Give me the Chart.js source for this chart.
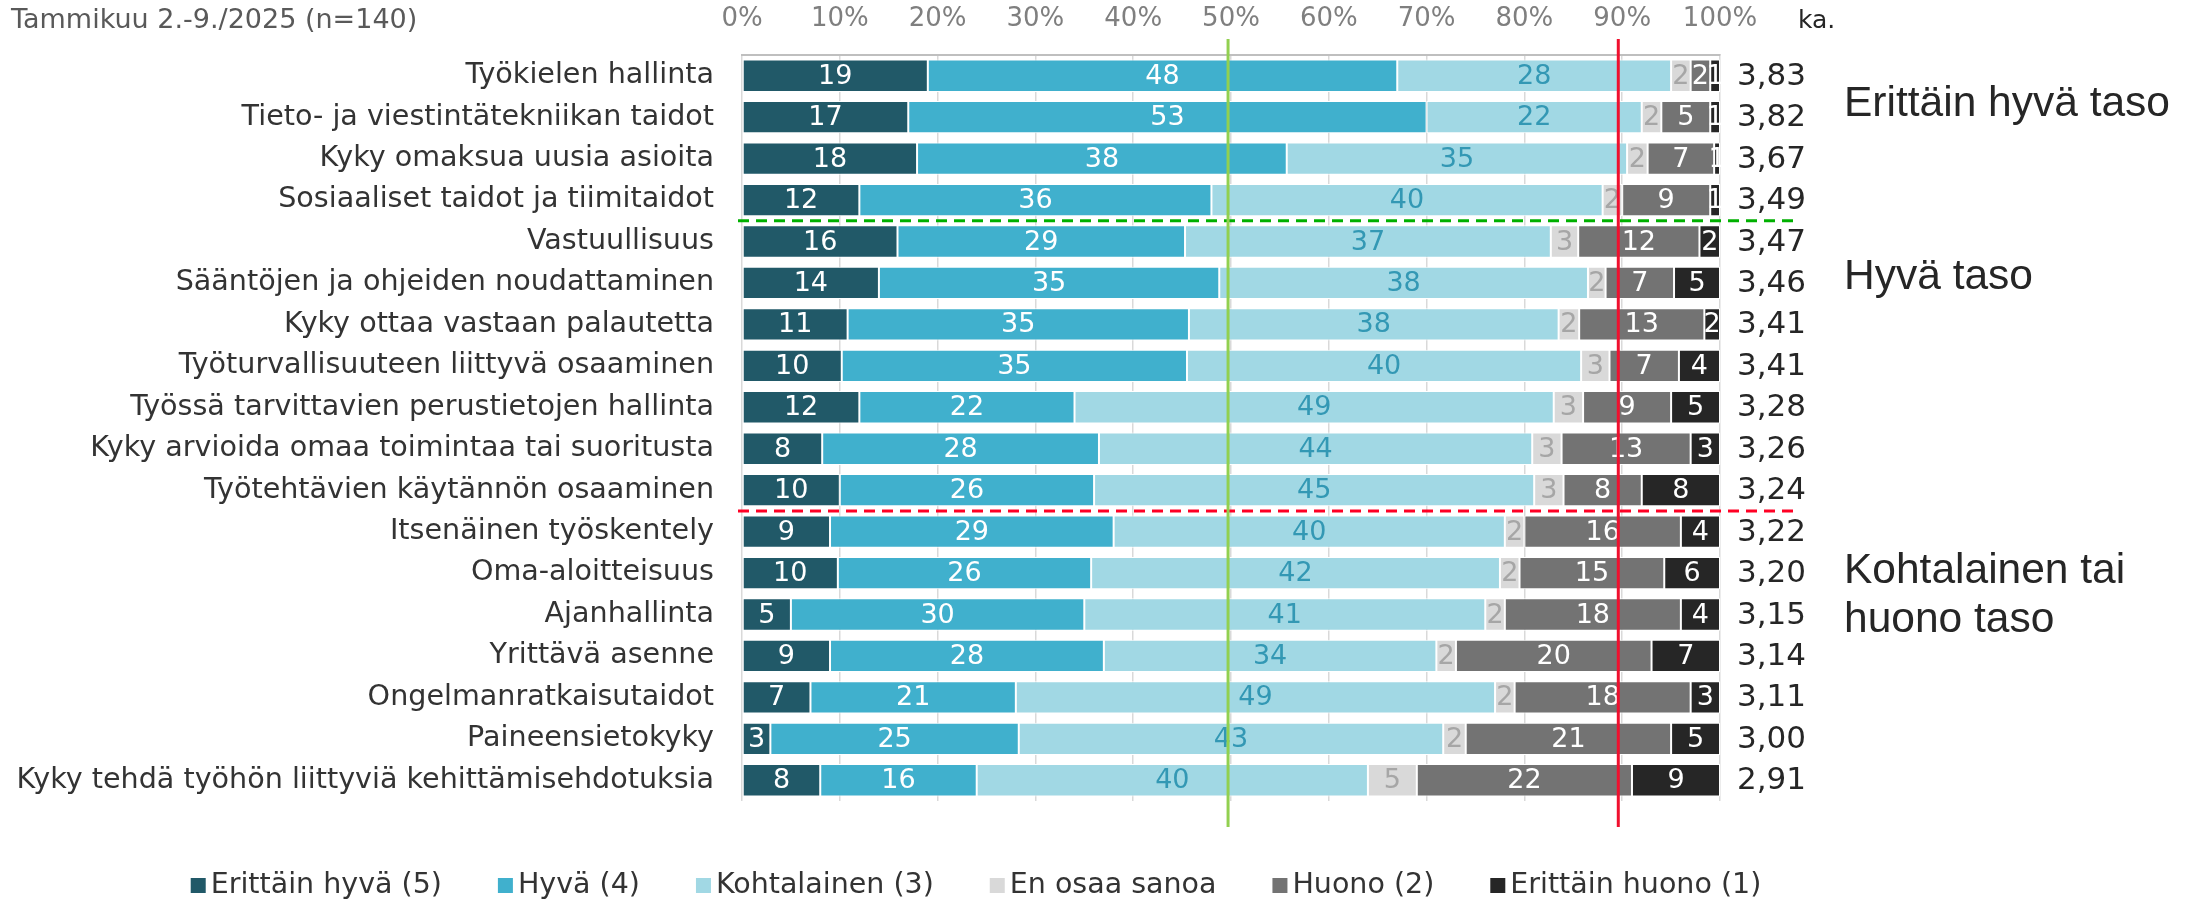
<!DOCTYPE html>
<html>
<head>
<meta charset="utf-8">
<script src="https://cdn.jsdelivr.net/npm/chart.js@4.4.1/dist/chart.umd.min.js"></script>
<style>
	html, body { margin: 0; padding: 0; background: #fff; }
	#wrap { width: 2197px; height: 902px; position: relative; }
</style>
</head>
<body>
<div id="wrap"><canvas id="stacked-chart"></canvas></div>
<script>
const categories = [
	"Työkielen hallinta",
	"Tieto- ja viestintätekniikan taidot",
	"Kyky omaksua uusia asioita",
	"Sosiaaliset taidot ja tiimitaidot",
	"Vastuullisuus",
	"Sääntöjen ja ohjeiden noudattaminen",
	"Kyky ottaa vastaan palautetta",
	"Työturvallisuuteen liittyvä osaaminen",
	"Työssä tarvittavien perustietojen hallinta",
	"Kyky arvioida omaa toimintaa tai suoritusta",
	"Työtehtävien käytännön osaaminen",
	"Itsenäinen työskentely",
	"Oma-aloitteisuus",
	"Ajanhallinta",
	"Yrittävä asenne",
	"Ongelmanratkaisutaidot",
	"Paineensietokyky",
	"Kyky tehdä työhön liittyviä kehittämisehdotuksia",
];

// percentages (labels show them rounded)
const erittainHyva = [19, 17, 17.9, 12, 15.9, 14, 10.8, 10.2, 12, 8.2, 10, 9, 9.8, 5, 9, 7, 2.9, 8];
const hyva = [48, 53, 37.8, 36, 29.4, 34.8, 34.9, 35.3, 22, 28.3, 26, 29, 25.9, 30, 28, 21, 25.4, 16];
const kohtalainen = [28, 22, 34.8, 40, 37.4, 37.7, 37.8, 40.3, 49, 44.3, 45, 40, 41.8, 41, 34, 49, 43.4, 40];
const enOsaa = [2, 2, 2.1, 2, 2.8, 1.8, 2.1, 2.9, 3, 3, 3, 2, 2, 2, 2, 2, 2.3, 5];
const huono = [2, 5, 6.8, 9, 12.4, 7, 12.8, 7.1, 9, 13.2, 8, 16, 14.8, 18, 20, 18, 21, 22];
const erittainHuono = [1, 1, 0.6, 1, 2.1, 4.7, 1.6, 4.2, 5, 3, 8, 4, 5.7, 4, 7, 3, 5, 9];

const averages = ["3,83", "3,82", "3,67", "3,49", "3,47", "3,46", "3,41", "3,41", "3,28", "3,26", "3,24", "3,22", "3,20", "3,15", "3,14", "3,11", "3,00", "2,91"];

const seriesNames = ["Erittäin hyvä (5)", "Hyvä (4)", "Kohtalainen (3)", "En osaa sanoa", "Huono (2)", "Erittäin huono (1)"];
const seriesColors = ["#215968", "#40B0CD", "#A1D8E4", "#D9D9D9", "#737373", "#262626"];
const labelColors = ["#ffffff", "#ffffff", "#3398B4", "#A6A6A6", "#ffffff", "#ffffff"];

const FONT = '"DejaVu Sans", sans-serif';

const overlay = {
	id: "overlay",
	afterDatasetsDraw(chart) {
		const ctx = chart.ctx;
		const xs = chart.scales.x;
		const area = chart.chartArea;
		ctx.save();

		// values inside the segments
		ctx.font = "27px " + FONT;
		ctx.textAlign = "center";
		ctx.textBaseline = "middle";
		chart.data.datasets.forEach((ds, i) => {
			chart.getDatasetMeta(i).data.forEach((bar, j) => {
				ctx.fillStyle = labelColors[i];
				ctx.fillText(String(Math.round(ds.data[j])), (bar.x + bar.base) / 2, bar.y + 1);
			});
		});

		// averages column
		const meta = chart.getDatasetMeta(0);
		ctx.fillStyle = "#262626";
		ctx.textAlign = "left";
		ctx.font = "31px " + FONT;
		meta.data.forEach((bar, j) => {
			ctx.fillText(averages[j], area.right + 17, bar.y + 1);
		});
		ctx.font = "25px " + FONT;
		ctx.fillText("ka.", area.right + 78, 21);

		// dashed group separators
		ctx.lineWidth = 3;
		ctx.setLineDash([11, 7]);
		const sep = [[3, "#00B000"], [10, "#FF0024"]];
		sep.forEach(([k, col]) => {
			const yy = (meta.data[k].y + meta.data[k + 1].y) / 2;
			ctx.strokeStyle = col;
			ctx.beginPath();
			ctx.moveTo(area.left - 4, yy);
			ctx.lineTo(1800, yy);
			ctx.stroke();
		});
		ctx.setLineDash([]);

		// reference lines at 50 % and 90 %
		ctx.lineWidth = 3;
		[[49.7, "#92D050"], [89.6, "#F0102E"]].forEach(([v, col]) => {
			const px = xs.getPixelForValue(v);
			ctx.strokeStyle = col;
			ctx.beginPath();
			ctx.moveTo(px, 39);
			ctx.lineTo(px, 827);
			ctx.stroke();
		});

		// group names on the right
		ctx.fillStyle = "#262626";
		ctx.font = '42.5px "Liberation Sans", Arial, sans-serif';
		ctx.textAlign = "left";
		ctx.fillText("Erittäin hyvä taso", 1844, 104);
		ctx.fillText("Hyvä taso", 1844, 277);
		ctx.fillText("Kohtalainen tai", 1844, 571);
		ctx.fillText("huono taso", 1844, 620);

		// subtitle
		ctx.fillStyle = "#595959";
		ctx.font = "27px " + FONT;
		ctx.fillText("Tammikuu 2.-9./2025 (n=140)", 11, 21);

		// legend
		ctx.font = "28.5px " + FONT;
		const gap = 56;
		let total = 0;
		seriesNames.forEach((n) => { total += 20 + ctx.measureText(n).width + gap; });
		total -= gap;
		let lx = 976 - total / 2;
		seriesNames.forEach((n, i) => {
			ctx.fillStyle = seriesColors[i];
			ctx.fillRect(lx, 878, 15, 15);
			ctx.fillStyle = "#333333";
			ctx.fillText(n, lx + 20, 886);
			lx += 20 + ctx.measureText(n).width + gap;
		});
		ctx.restore();
	},
};

const seriesData = [erittainHyva, hyva, kohtalainen, enOsaa, huono, erittainHuono];

new Chart(document.getElementById("stacked-chart"), {
	type: "bar",
	data: {
		labels: categories,
		datasets: seriesNames.map((name, i) => ({
			label: name,
			data: seriesData[i],
			backgroundColor: seriesColors[i],
			borderColor: "#ffffff",
			borderWidth: 1,
			borderSkipped: false,
			barPercentage: 0.78,
			categoryPercentage: 1,
		})),
	},
	options: {
		indexAxis: "y",
		responsive: true,
		maintainAspectRatio: false,
		animation: false,
		layout: { padding: { left: 10, right: 477, top: 0, bottom: 101 } },
		plugins: {
			legend: { display: false },
			tooltip: { enabled: false },
		},
		scales: {
			x: {
				position: "top",
				stacked: true,
				min: 0,
				max: 100,
				ticks: {
					stepSize: 10,
					padding: 20,
					color: "#7F7F7F",
					font: { family: FONT, size: 26 },
					callback: (v) => v + "%",
				},
				grid: { color: "#D9D9D9", lineWidth: 1.5, tickLength: 0 },
				border: { color: "#BFBFBF", width: 2 },
				afterFit: (s) => { s.height = 55; },
			},
			y: {
				stacked: true,
				ticks: {
					padding: 20,
					color: "#333333",
					font: { family: FONT, size: 28.6 },
				},
				grid: { display: false },
				border: { display: false },
				afterFit: (s) => { s.width = 732; },
			},
		},
	},
	plugins: [overlay],
});
</script>
</body>
</html>
